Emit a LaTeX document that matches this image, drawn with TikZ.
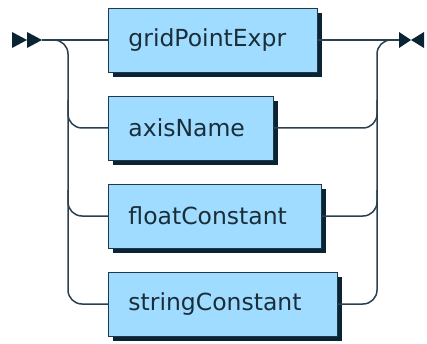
\documentclass[tikz,border=0pt]{standalone}
\usepackage{fontspec}
\setmainfont{DejaVu Sans}
\usetikzlibrary{shadows,calc}
\definecolor{boxfill}{HTML}{A0DCFF}
\definecolor{boxline}{HTML}{1E3A4A}
\definecolor{shadowc}{HTML}{0A2433}
\definecolor{railc}{HTML}{2A4050}
\definecolor{textc}{HTML}{1A2E3A}
\begin{document}
\begin{tikzpicture}[x=1pt,y=-1pt,
  rail/.style={draw=railc,line width=1.5pt,rounded corners=14pt},
  termbox/.style={draw=boxline,line width=0.9pt,fill=boxfill,text=textc,
    anchor=west,minimum height=64pt,inner xsep=20pt,inner ysep=0pt,align=left,
    font=\fontsize{23.5}{28}\selectfont,
    general shadow={fill=shadowc,shadow xshift=5pt,shadow yshift=-5pt}},
  marker/.style={fill=shadowc,draw=none}]
\useasboundingbox (0,0) rectangle (427,344);
% nodes
\node[termbox,text width=169pt] (g) at (108,40) {gridPointExpr};
\node[termbox,text width=125pt] (a) at (108,128) {axisName};
\node[termbox,text width=173pt] (f) at (108,216) {floatConstant};
\node[termbox,text width=189pt] (s) at (108,304) {stringConstant};
\coordinate (st) at (42,40);
\coordinate (en) at (399,40);
% markers
\fill[marker] (12,32) -- (27,40) -- (12,48) -- cycle;
\fill[marker] (27,32) -- (42,40) -- (27,48) -- cycle;
\fill[marker] (399,32) -- (411,40) -- (399,48) -- cycle;
\fill[marker] (424,32) -- (411,40) -- (424,48) -- cycle;
% rails
\draw[rail] (st) -- (g.west);
\draw[rail] (g.east) -- (en);
\draw[rail] (st) -- (68,40) -- (68,304) -- (s.west);
\draw[rail] (68,100) -- (68,128) -- (a.west);
\draw[rail] (68,190) -- (68,216) -- (f.west);
\draw[rail] (s.east) -- (377,304) -- (377,40) -- (en);
\draw[rail] (a.east) -- (377,128) -- (377,100);
\draw[rail] (f.east) -- (377,216) -- (377,190);
\end{tikzpicture}
\end{document}
